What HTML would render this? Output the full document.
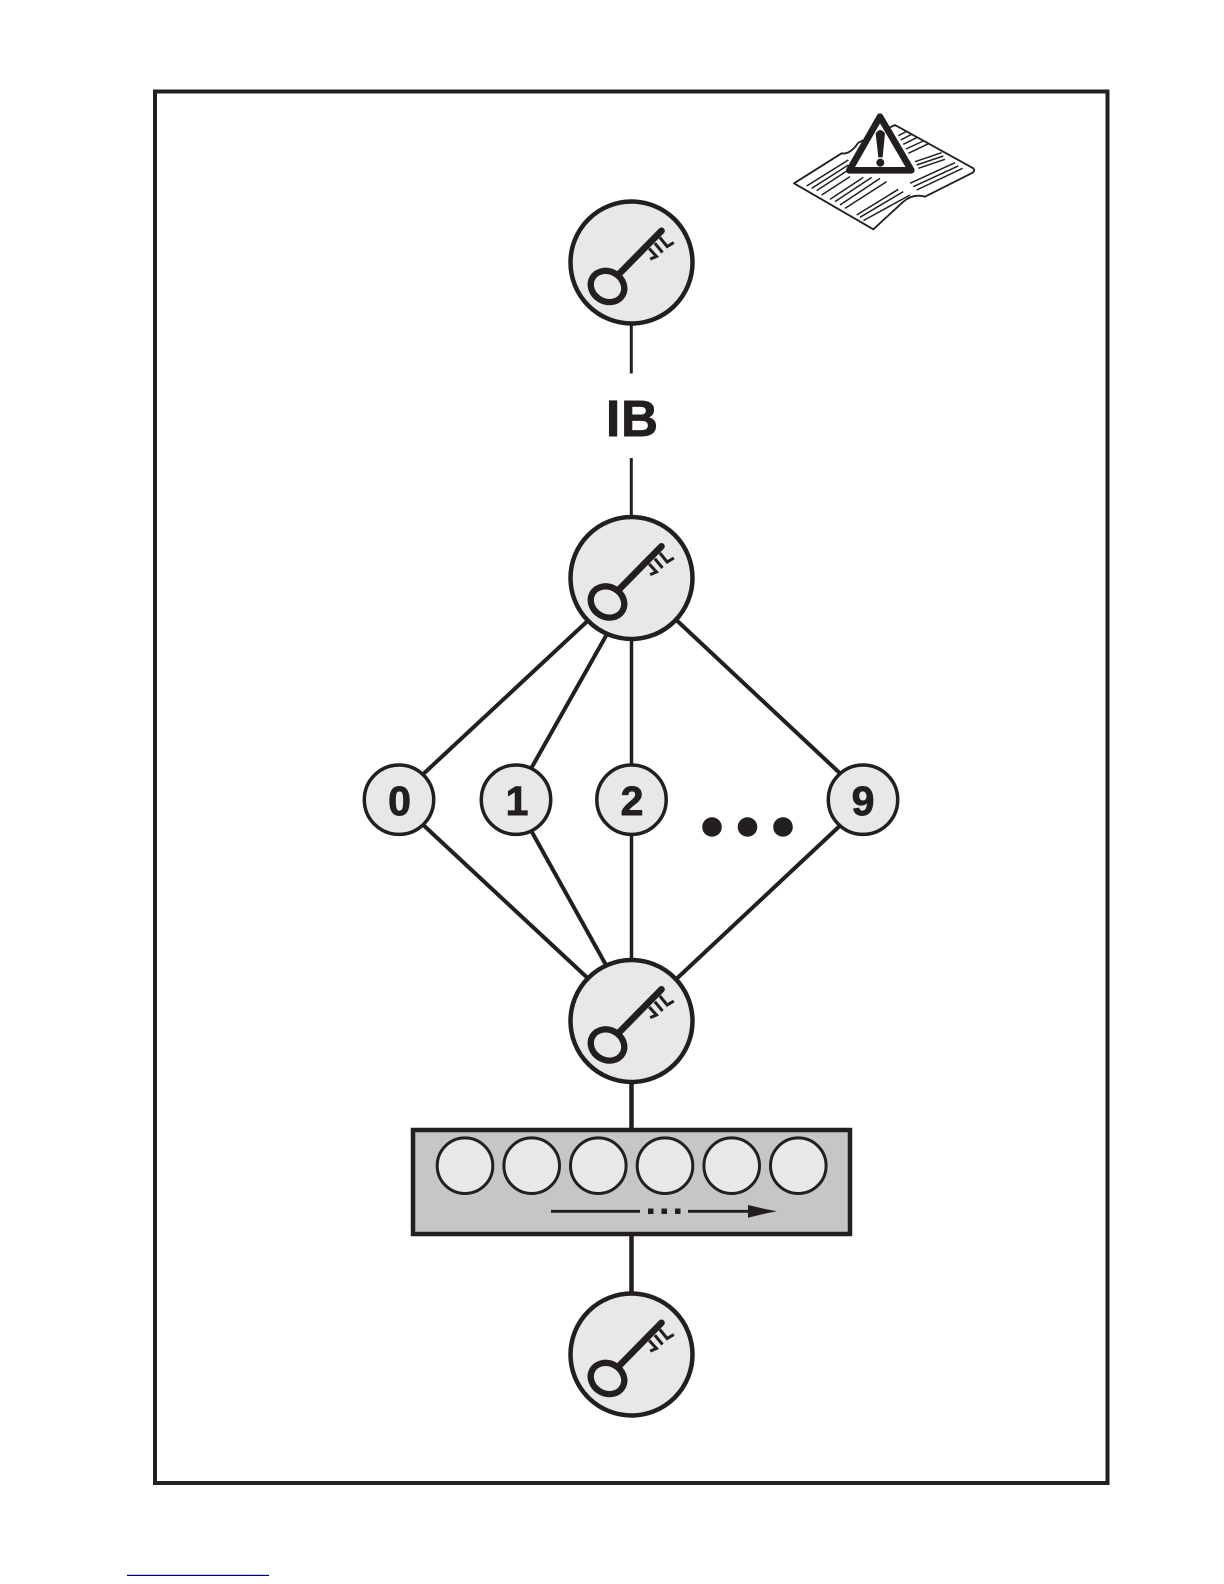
<!DOCTYPE html>
<html>
<head>
<meta charset="utf-8">
<style>
html,body{margin:0;padding:0;background:#fff;width:1224px;height:1584px;overflow:hidden}
svg{display:block}
text{font-family:"Liberation Sans",sans-serif;font-weight:bold;fill:#231f20;text-anchor:middle;stroke:#231f20;stroke-width:.9}
</style>
</head>
<body>
<svg width="1224" height="1584" viewBox="0 0 1224 1584" xmlns="http://www.w3.org/2000/svg">
<defs>
<g id="key">
<circle cx="0" cy="0" r="61" fill="#e8e8e8" stroke="#231f20" stroke-width="4.500"/>
<g transform="scale(.3333) translate(-245,-215)" fill="none" stroke="#231f20" stroke-linecap="round" stroke-linejoin="miter">
<ellipse cx="173" cy="287" rx="52" ry="45" transform="rotate(30 173 287)" stroke-width="19"/>
<path d="M207 250 L335 120" stroke-width="20"/>
<path d="M330 140 L352 167 L372 155" stroke-width="9" stroke-linecap="butt"/>
<path d="M315 157 L338 185" stroke-width="9" stroke-linecap="butt"/>
<path d="M298 173 L320 197 L301 205" stroke-width="9" stroke-linecap="butt"/>
</g>
</g>
</defs>

<rect x="155" y="91.500" width="952.500" height="1391.500" fill="#fff" stroke="#231f20" stroke-width="4"/>

<!-- connectors -->
<g stroke="#231f20" fill="none">
<path d="M631.300 262 V373.500 M631.300 458 V578" stroke-width="3"/>
<path d="M631.500 578 V1021" stroke-width="3.500"/>
<path d="M631.500 1021 V1130 M631.500 1234 V1354" stroke-width="4.500"/>
<path d="M594 615 L419 778 M611 627 L528 774 M671 615 L845 778 M419 821 L594 984 M528 825 L611 974 M845 821 L671 984" stroke-width="4"/>
</g>

<!-- key nodes -->
<use href="#key" x="631.500" y="262.500"/>
<use href="#key" x="631.500" y="578"/>
<use href="#key" x="631.500" y="1021"/>
<use href="#key" x="631.500" y="1354.500"/>

<text x="632.500" y="436" font-size="51" letter-spacing="1">IB</text>

<!-- number nodes -->
<g fill="#e8e8e8" stroke="#231f20" stroke-width="3.500">
<circle cx="399" cy="799.700" r="34.700"/>
<circle cx="516" cy="799.700" r="34.700"/>
<circle cx="631.500" cy="799.700" r="34.700"/>
<circle cx="863" cy="799.700" r="34.700"/>
</g>
<text x="399.500" y="815" font-size="41">0</text>
<text x="517" y="815" font-size="41">1</text>
<text x="632" y="815" font-size="41">2</text>
<text x="863" y="815" font-size="41">9</text>
<circle cx="712" cy="827" r="9.800" fill="#231f20"/>
<circle cx="747.500" cy="827" r="9.800" fill="#231f20"/>
<circle cx="783" cy="827" r="9.800" fill="#231f20"/>

<!-- register box -->
<rect x="413" y="1130" width="437" height="104" fill="#c6c6c6" stroke="#231f20" stroke-width="4.500"/>
<g fill="#e8e8e8" stroke="#231f20" stroke-width="3">
<circle cx="465" cy="1165.700" r="27.800"/>
<circle cx="531.700" cy="1165.700" r="27.800"/>
<circle cx="598.300" cy="1165.700" r="27.800"/>
<circle cx="665" cy="1165.700" r="27.800"/>
<circle cx="731.700" cy="1165.700" r="27.800"/>
<circle cx="798.300" cy="1165.700" r="27.800"/>
</g>
<path d="M551 1211.300 H640 M688 1211.300 H750" stroke="#231f20" stroke-width="2.800" fill="none"/>
<rect x="648" y="1208.500" width="5.500" height="5.500" fill="#231f20"/>
<rect x="661.500" y="1208.500" width="5.500" height="5.500" fill="#231f20"/>
<rect x="675" y="1208.500" width="5.500" height="5.500" fill="#231f20"/>
<path d="M748 1205 L765 1209 L777 1211.300 L765 1213.600 L748 1217.700 Z" fill="#231f20"/>

<!-- warning book -->
<g transform="translate(770,100) scale(.3333)">
<path d="M72 250 L215 160 Q240 165 265 128 L375 75 L610 205 Q616 212 608 218 L465 290 Q430 280 400 305 L310 388 Z" fill="#fff" stroke="#231f20" stroke-width="5.500" stroke-linejoin="round"/>
<path d="M110 258 L235 180 M125 265 L235 195 M140 272 L235 210 M155 285 L240 230 M180 298 L280 232 M195 305 L305 232 M210 315 L330 235 M225 325 L350 245 M260 345 L385 268 M270 352 L400 275 M280 362 L420 285 M385 107 L412 93 M392 120 L425 103 M400 133 L440 113 M408 147 L460 123 M415 160 L478 130 M435 185 L515 158 M440 195 L520 168 M445 205 L525 178 M420 250 L555 188 M430 260 L565 198 M440 270 L578 205" stroke="#231f20" stroke-width="4.500" fill="none"/>
<path d="M330 50 L238 211 H424 Z" fill="#fff" stroke="#231f20" stroke-width="20" stroke-linejoin="round"/>
<path d="M317 100 Q331 80 345 100 L338 172 H325 Z" fill="#231f20"/>
<circle cx="331" cy="188" r="12" fill="#231f20"/>
</g>

<!-- blue line -->
<rect x="127" y="1574.800" width="142" height="1.200" fill="#000080"/>
</svg>
</body>
</html>
